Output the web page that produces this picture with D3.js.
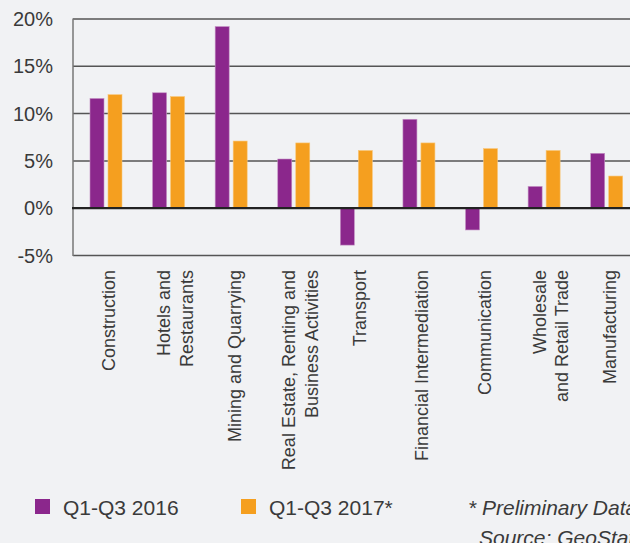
<!DOCTYPE html>
<html>
<head>
<meta charset="utf-8">
<script src="https://cdn.jsdelivr.net/npm/d3@7"></script>
<style>
  html, body { margin: 0; padding: 0; background: #f1f2f4; }
  svg { display: block; font-family: "Liberation Sans", Arial, sans-serif; }
</style>
</head>
<body>
<div id="chart"></div>
<script>
// data
const categories = [
    ['Construction'],
    ['Hotels and', 'Restaurants'],
    ['Mining and Quarrying'],
    ['Real Estate, Renting and', 'Business Activities'],
    ['Transport'],
    ['Financial Intermediation'],
    ['Communication'],
    ['Wholesale', 'and Retail Trade'],
    ['Manufacturing']
];
const values2016 = [11.6, 12.2, 19.2, 5.2, -3.9, 9.4, -2.3, 2.3, 5.8];
const values2017 = [12.0, 11.8, 7.1, 6.9, 6.1, 6.9, 6.3, 6.1, 3.4];
const seriesNames = ['Q1-Q3 2016', 'Q1-Q3 2017*'];
const yTicks = [-5, 0, 5, 10, 15, 20];

const width = 630, height = 543;
const colors = ['#8b278c', '#f59f1f'];
const textColor = '#3a3a3a';

const svg = d3.select('#chart')
    .append('svg')
    .attr('width', width)
    .attr('height', height);

const y = d3.scaleLinear().domain([-5, 20]).range([255.5, 19]);

const x = d3.scaleBand()
    .domain(d3.range(categories.length))
    .range([74.7, 638]);

const barW = 14, gap = 4;

// gridlines
svg.append('g')
    .selectAll('line')
    .data(yTicks.filter(d => d !== 0))
    .enter().append('line')
    .attr('x1', 73)
    .attr('x2', width)
    .attr('y1', d => y(d))
    .attr('y2', d => y(d))
    .style('stroke', '#555')
    .style('stroke-width', 1.5);

// tick labels
svg.append('g')
    .selectAll('text')
    .data(yTicks)
    .enter().append('text')
    .attr('x', 53)
    .attr('y', d => y(d) + 7)
    .attr('text-anchor', 'end')
    .attr('font-size', 20)
    .attr('fill', textColor)
    .text(d => d + '%');

// bars
const groups = svg.append('g')
    .selectAll('g')
    .data(categories.map((c, i) => ({ i, v: [values2016[i], values2017[i]] })))
    .enter().append('g');

groups.selectAll('rect')
    .data(d => d.v.map((v, s) => ({ i: d.i, s, v })))
    .enter().append('rect')
    .attr('x', d => x(d.i) + x.bandwidth() / 2 - barW - gap / 2 + d.s * (barW + gap))
    .attr('y', d => y(Math.max(0, d.v)))
    .attr('width', barW)
    .attr('height', d => Math.abs(y(d.v) - y(0)))
    .style('fill', d => colors[d.s])
    .style('stroke', d => d.s === 0 ? '#c490c4' : '#f8c77a')
    .style('stroke-width', 0.6);

// left axis line and zero line
svg.append('line')
    .attr('x1', 73).attr('x2', 73)
    .attr('y1', y(20) - 0.5).attr('y2', y(-5) + 0.5)
    .style('stroke', '#777')
    .style('stroke-width', 1.5);

svg.append('line')
    .attr('x1', 72)
    .attr('x2', width)
    .attr('y1', y(0))
    .attr('y2', y(0))
    .style('stroke', '#222')
    .style('stroke-width', 2.2);

// category labels
const labels = svg.append('g')
    .selectAll('text')
    .data(categories)
    .enter().append('text')
    .attr('transform', (d, i) => `translate(${x(i) + x.bandwidth() / 2},270) rotate(-90)`)
    .attr('text-anchor', 'end')
    .attr('font-size', 18)
    .attr('fill', textColor);

labels.each(function (d) {
    const t = d3.select(this);
    const offs = d.length === 1 ? [9.5] : [1.5, 24];
    d.forEach((line, k) => {
        t.append('tspan')
            .attr('x', 0)
            .attr('y', offs[k])
            .text(line);
    });
});

// legend
const legend = svg.append('g');
const legendX = [35, 241];
seriesNames.forEach((name, s) => {
    legend.append('rect')
        .attr('x', legendX[s])
        .attr('y', 499)
        .attr('width', 15)
        .attr('height', 15)
        .style('fill', colors[s]);
    legend.append('text')
        .attr('x', legendX[s] + 28)
        .attr('y', 514.5)
        .attr('font-size', 21)
        .attr('fill', textColor)
        .text(name);
});

svg.append('text')
    .attr('x', 468)
    .attr('y', 514.5)
    .attr('font-size', 21)
    .attr('font-style', 'italic')
    .attr('fill', textColor)
    .text('* Preliminary Data');

svg.append('text')
    .attr('x', 479)
    .attr('y', 545)
    .attr('font-size', 21)
    .attr('font-style', 'italic')
    .attr('fill', textColor)
    .text('Source: GeoStat');
</script>
</body>
</html>
